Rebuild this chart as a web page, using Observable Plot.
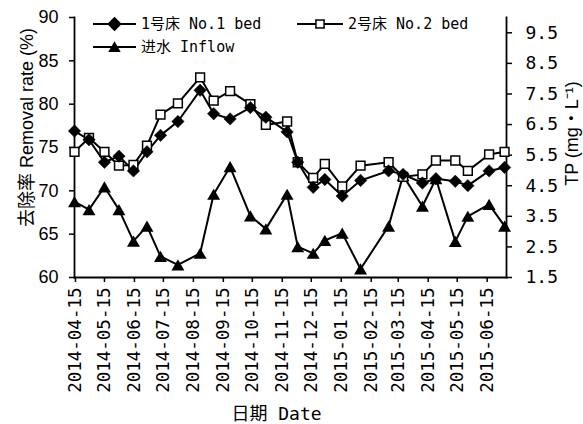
<!DOCTYPE html>
<html>
<head>
<meta charset="utf-8">
<script src="https://cdn.jsdelivr.net/npm/d3@7"></script>
<script src="https://cdn.jsdelivr.net/npm/@observablehq/plot@0.6"></script>
<style>
  html, body { margin: 0; padding: 0; background: #fff; }
  #wrap { position: relative; width: 583px; height: 424px; }
  #legend { position: absolute; left: 0; top: 0; pointer-events: none; }
</style>
</head>
<body>
<div id="wrap"></div>
<script>
// ---- data ----
const dates = ["2014-04-14","2014-04-29","2014-05-15","2014-05-30","2014-06-14","2014-06-28","2014-07-12","2014-07-30","2014-08-22","2014-09-05","2014-09-22","2014-10-13","2014-10-29","2014-11-20","2014-12-01","2014-12-17","2014-12-29","2015-01-16","2015-02-04","2015-03-05","2015-03-20","2015-04-09","2015-04-23","2015-05-13","2015-05-26","2015-06-17","2015-07-03"];
const bed1 = [76.9, 75.9, 73.3, 74.0, 72.3, 74.5, 76.4, 78.0, 81.6, 78.9, 78.3, 79.6, 78.5, 76.8, 73.3, 70.4, 71.3, 69.4, 71.2, 72.3, 71.9, 70.9, 71.4, 71.1, 70.6, 72.3, 72.7];
const bed2 = [74.5, 76.1, 74.5, 72.9, 73.0, 75.2, 78.8, 80.1, 83.1, 80.4, 81.5, 80.0, 77.6, 78.0, 73.3, 71.5, 73.1, 70.5, 72.9, 73.3, 71.6, 71.9, 73.5, 73.5, 72.3, 74.2, 74.5];
const inflow = [3.98, 3.72, 4.46, 3.72, 2.69, 3.18, 2.19, 1.91, 2.29, 4.22, 5.12, 3.51, 3.09, 4.22, 2.51, 2.29, 2.71, 2.95, 1.78, 3.18, 4.83, 3.83, 4.73, 2.68, 3.50, 3.89, 3.18];

const leftTicks = [60, 65, 70, 75, 80, 85, 90];
const rightTicks = [1.5, 2.5, 3.5, 4.5, 5.5, 6.5, 7.5, 8.5, 9.5];
const xTickDates = ["2014-04-15","2014-05-15","2014-06-15","2014-07-15","2014-08-15","2014-09-15","2014-10-15","2014-11-15","2014-12-15","2015-01-15","2015-02-15","2015-03-15","2015-04-15","2015-05-15","2015-06-15"];
const xDomain = ["2014-04-14", "2015-07-05"];
const leftDomain = [60, 90];
const rightDomain = [1.5, 10];

const seriesNames = ["1号床 No.1 bed", "2号床 No.2 bed", "进水 Inflow"];
const xTitle = "日期 Date";
const yTitle = "去除率 Removal rate (%)";
const y2Title = "TP (mg・L⁻¹)";

// ---- build ----
const parse = d3.utcParse("%Y-%m-%d");
const rows = dates.map((d, i) => ({date: parse(d), bed1: bed1[i], bed2: bed2[i], inflow: inflow[i]}));
const tp = d3.scaleLinear(rightDomain, leftDomain);

const mono = "'DejaVu Sans Mono', 'Noto Sans CJK SC', monospace";
const sans = "'Liberation Sans', Arial, 'Noto Sans CJK SC', sans-serif";

const chart = Plot.plot({
  width: 583,
  height: 424,
  marginLeft: 74,
  marginRight: 77,
  marginTop: 17,
  marginBottom: 147,
  style: {background: "white", color: "black", overflow: "visible"},
  x: {type: "utc", domain: xDomain.map(parse)},
  y: {domain: leftDomain},
  marks: [
    Plot.axisY({ticks: leftTicks, tickSize: 5, tickPadding: 11, fontSize: 18, fontFamily: sans, label: null, strokeWidth: 1.5}),
    Plot.axisY({anchor: "right", ticks: rightTicks.map(v => tp(v)), tickFormat: v => d3.format(".1f")(tp.invert(v)),
      tickSize: 5, tickPadding: 14, fontSize: 18, fontFamily: mono, label: null, strokeWidth: 1.5}),
    Plot.axisX({ticks: xTickDates.map(parse), tickFormat: d3.utcFormat("%Y-%m-%d"), tickRotate: -90,
      tickSize: 5, tickPadding: 5, fontSize: 17.5, fontFamily: mono, label: null, strokeWidth: 1.5}),
    Plot.frame({anchor: "left", strokeWidth: 1.8}),
    Plot.frame({anchor: "right", strokeWidth: 1.8}),
    Plot.frame({anchor: "bottom", strokeWidth: 1.8}),
    // series lines
    Plot.line(rows, {x: "date", y: d => tp(d.inflow), stroke: "black", strokeWidth: 2}),
    Plot.line(rows, {x: "date", y: "bed2", stroke: "black", strokeWidth: 2}),
    Plot.line(rows, {x: "date", y: "bed1", stroke: "black", strokeWidth: 2}),
    // markers
    Plot.dot(rows, {x: "date", y: d => tp(d.inflow), symbol: "triangle", r: 4.8, fill: "black", dy: 1.8}),
    Plot.dot(rows, {x: "date", y: "bed2", symbol: "square2", r: 5.6, fill: "white", stroke: "black", strokeWidth: 1.5}),
    Plot.dot(rows, {x: "date", y: "bed1", symbol: "diamond2", r: 5.6, fill: "black", stroke: "black", strokeWidth: 0.5}),
    // axis titles
    Plot.text([yTitle], {text: d => d, frameAnchor: "left", textAnchor: "middle", lineAnchor: "middle", rotate: -90, dx: -47, dy: -20, fontSize: 18, fontFamily: sans, fill: "black"}),
    Plot.text([y2Title], {text: d => d, frameAnchor: "right", textAnchor: "middle", lineAnchor: "middle", rotate: -90, dx: 66, dy: -14, fontSize: 18, fontFamily: sans, fill: "black"}),
    Plot.text([xTitle], {text: d => d, frameAnchor: "bottom", textAnchor: "middle", lineAnchor: "middle", dx: -14, dy: 137, fontSize: 18, fontFamily: mono, fill: "black"})
  ]
});

const wrap = document.getElementById("wrap");
wrap.appendChild(chart);

// ---- legend overlay ----
const leg = d3.select(wrap).append("svg").attr("id", "legend").attr("width", 583).attr("height", 70);
const items = [
  {name: seriesNames[0], x0: 93, x1: 136, y: 24, sym: d3.symbolDiamond2, size: 5.6, fill: "black", stroke: "black"},
  {name: seriesNames[1], x0: 297, x1: 343, y: 24, sym: d3.symbolSquare2, size: 5.2, fill: "white", stroke: "black"},
  {name: seriesNames[2], x0: 93, x1: 136, y: 47, sym: d3.symbolTriangle, size: 4.6, fill: "black", stroke: "none"}
];
items.forEach(it => {
  const g = leg.append("g");
  g.append("line").attr("x1", it.x0).attr("x2", it.x1).attr("y1", it.y).attr("y2", it.y)
    .attr("stroke", "black").attr("stroke-width", 2);
  g.append("path").attr("d", d3.symbol(it.sym, Math.PI * it.size * it.size)())
    .attr("transform", `translate(${(it.x0 + it.x1) / 2},${it.y + (it.sym === d3.symbolTriangle ? 1.5 : 0)})`)
    .attr("fill", it.fill).attr("stroke", it.stroke).attr("stroke-width", 1.5);
  g.append("text").attr("x", it.x1 + 5).attr("y", it.y).attr("dy", "0.35em")
    .attr("font-family", mono).attr("font-size", 15).attr("fill", "black").text(it.name);
});
</script>
</body>
</html>
